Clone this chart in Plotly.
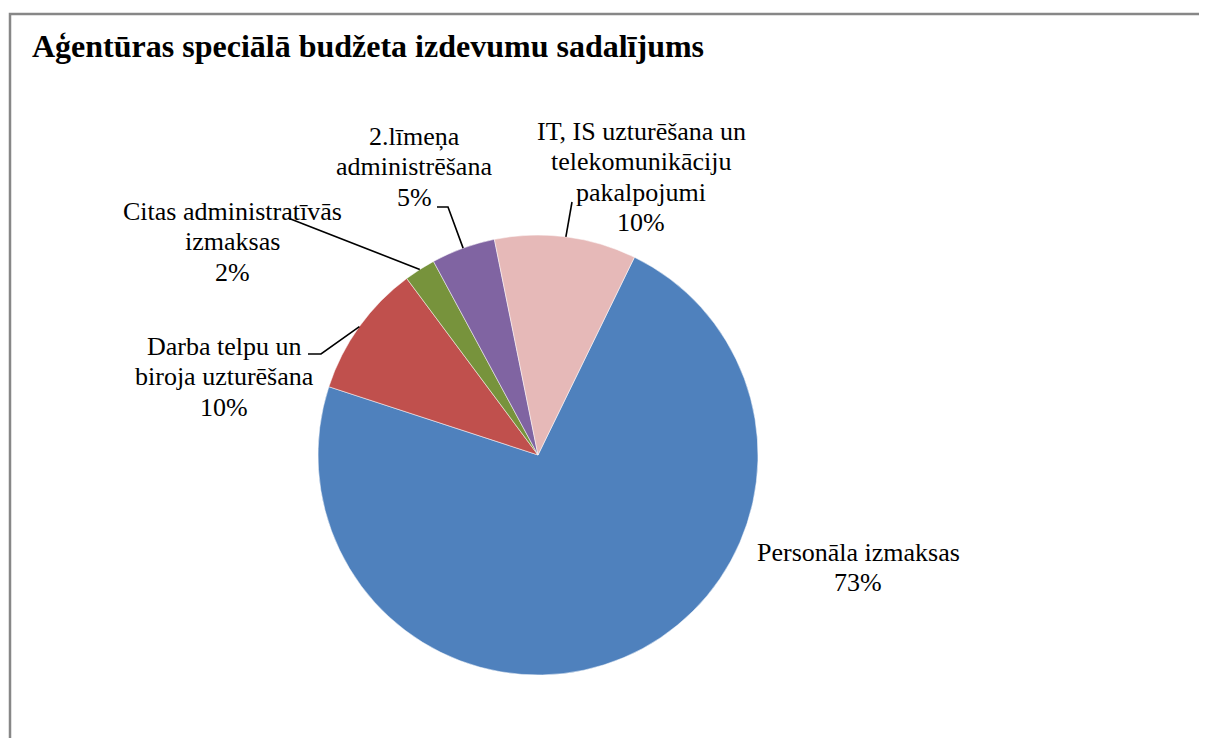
import math
import plotly.graph_objects as go

# page body has an 8px default margin; figure sized to fit the window exactly
OFF = 8
W, H = 1207 - OFF, 738 - OFF

# ---- data ----
labels = [
    "Personāla izmaksas",
    "Darba telpu un<br>biroja uzturēšana",
    "Citas administratīvās<br>izmaksas",
    "2.līmeņa<br>administrēšana",
    "IT, IS uzturēšana un<br>telekomunikāciju<br>pakalpojumi",
]
values = [72.8, 9.8, 2.3, 4.7, 10.4]
colors = ["#4F81BD", "#C0504D", "#77933C", "#8064A2", "#E6B9B8"]
title_text = "Aģentūras speciālā budžeta izdevumu sadalījums"

# ---- geometry (reference pixels) ----
CX, CY, R = 538, 455, 220
ROT = 26  # degrees clockwise from 12 o'clock where first slice starts
FS = 26
LINE = 30.5

def px(x, y):
    return (x - OFF) / W, 1 - (y - OFF) / H

# label: centre x and first-line baseline (pixels)
label_pos = [(858, 561), (224, 355), (232, 220), (414, 145), (641, 140)]
leader_start = [None, [(308, 354), (321, 354)], [(288, 218)], [(437, 207), (448, 207)], [(572, 202)]]

x0, y1 = px(CX - R, CY - R)
x1, y0 = px(CX + R, CY + R)

fig = go.Figure(go.Pie(
    labels=labels,
    values=values,
    sort=False,
    direction="clockwise",
    rotation=ROT,
    marker=dict(colors=colors, line=dict(color="white", width=0.5)),
    textinfo="none",
    hoverinfo="label+percent",
    domain=dict(x=[x0, x1], y=[y0, y1]),
    showlegend=False,
))

total = sum(values)
annotations = []
shapes = []
cum = 0.0
for i, (lab, v) in enumerate(zip(labels, values)):
    mid = ROT + (cum + v / 2) / total * 360
    cum += v
    pct = round(v / total * 100)
    lines = lab.split("<br>") + [f"{pct}%"]
    lx, by = label_pos[i]
    for k, line in enumerate(lines):
        ax_, ay_ = px(lx, by + k * LINE - 0.33 * FS)
        annotations.append(dict(
            x=ax_, y=ay_, xref="paper", yref="paper",
            text=line, showarrow=False,
            xanchor="center", yanchor="middle", align="center",
            font=dict(family="Liberation Serif", size=FS, color="black"),
        ))
    if leader_start[i]:
        ex = CX + R * math.sin(math.radians(mid))
        ey = CY - R * math.cos(math.radians(mid))
        pts = leader_start[i] + [(ex, ey)]
        path = "M " + " L ".join(f"{px(a, b)[0]:.5f},{px(a, b)[1]:.5f}" for a, b in pts)
        shapes.append(dict(type="path", path=path, xref="paper", yref="paper",
                           line=dict(color="black", width=1.6)))

# outer border
bx0, by0 = px(10, 14)
bx1, by1 = px(1240, 770)
shapes.append(dict(type="rect", xref="paper", yref="paper", x0=bx0, y0=by1, x1=bx1, y1=by0,
                   line=dict(color="#878787", width=2.5)))

tx, ty = px(30, 57 - 0.33 * 32)
annotations.append(dict(
    x=tx, y=ty, xref="paper", yref="paper", text=f"<b>{title_text}</b>",
    showarrow=False, xanchor="left", yanchor="middle",
    font=dict(family="Liberation Serif", size=32, color="black"),
))

fig.update_layout(
    width=W, height=H,
    margin=dict(l=0, r=0, t=0, b=0),
    paper_bgcolor="white", plot_bgcolor="white",
    annotations=annotations, shapes=shapes,
)

fig.write_html("out.html")
